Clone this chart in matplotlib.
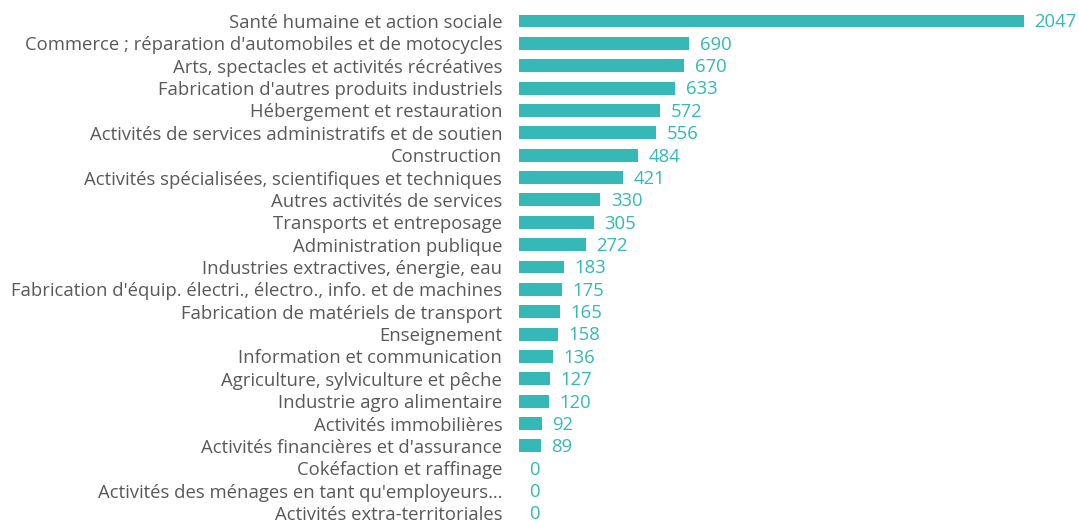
import numpy as np
import matplotlib.pyplot as plt

secteurs = [
    "Santé humaine et action sociale",
    "Commerce ; réparation d'automobiles et de motocycles",
    "Arts, spectacles et activités récréatives",
    "Fabrication d'autres produits industriels",
    "Hébergement et restauration",
    "Activités de services administratifs et de soutien",
    "Construction",
    "Activités spécialisées, scientifiques et techniques",
    "Autres activités de services",
    "Transports et entreposage",
    "Administration publique",
    "Industries extractives, énergie, eau",
    "Fabrication d'équip. électri., électro., info. et de machines",
    "Fabrication de matériels de transport",
    "Enseignement",
    "Information et communication",
    "Agriculture, sylviculture et pêche",
    "Industrie agro alimentaire",
    "Activités immobilières",
    "Activités financières et d'assurance",
    "Cokéfaction et raffinage",
    "Activités des ménages en tant qu'employeurs…",
    "Activités extra-territoriales",
]
valeurs = [2047, 690, 670, 633, 572, 556, 484, 421, 330, 305, 272, 183,
           175, 165, 158, 136, 127, 120, 92, 89, 0, 0, 0]

teal = '#35B8B6'
gris = '#595959'

fig = plt.figure(figsize=(10.79, 5.23), dpi=100)
ax = fig.add_axes([519 / 1079, 0, 560 / 1079, 1])

y = np.arange(len(secteurs))
ax.barh(y, valeurs, height=0.58, color=teal)

for yi, v in zip(y, valeurs):
    ax.annotate(str(v), (v, yi), xytext=(7.5, -1), textcoords='offset points',
                ha='left', va='center', color=teal, fontsize=13.3, family='Open Sans')

ax.set_xlim(0, 2047 * 560 / 505)
ax.set_ylim(22 + 10 / 22.36, -21 / 22.36)
ax.set_yticks(y)
ax.set_yticklabels(secteurs, fontsize=13.3, color=gris, family='Open Sans')
ax.tick_params(axis='y', length=0, pad=12)
ax.set_xticks([])
for s in ax.spines.values():
    s.set_visible(False)

fig.savefig('out.png', dpi=100)
